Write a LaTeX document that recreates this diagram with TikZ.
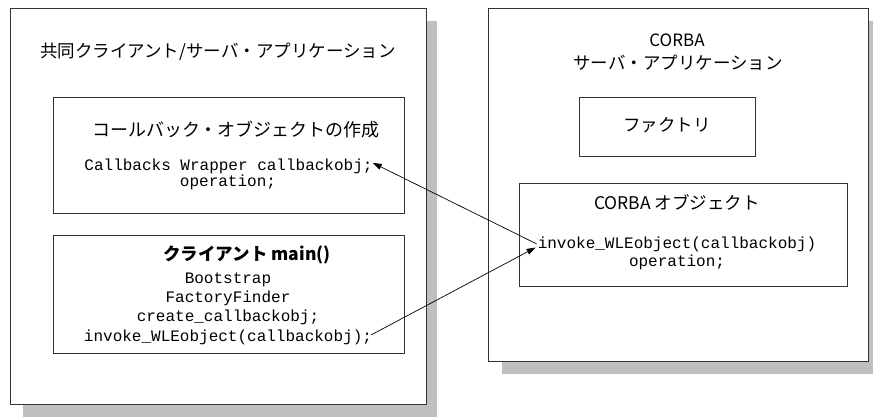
\documentclass[tikz,border=0pt]{standalone}
\usepackage{fontspec}
\newfontfamily\jp{Noto Sans CJK JP}
\newfontfamily\code{Liberation Mono}
\usetikzlibrary{arrows.meta,calc}
\tikzset{
  outer/.style={draw=black!80, line width=0.9pt, fill=white, anchor=north west, inner sep=0pt},
  inner/.style={draw=black!80, line width=0.9pt, fill=white, anchor=north west, inner sep=0pt},
  shadowbox/.style={fill=black!25, draw=none, anchor=north west, inner sep=0pt},
  ttl/.style={font=\jp\fontsize{17.5}{20}\selectfont, anchor=base, inner sep=1pt},
  codeline/.style={font=\code\fontsize{16}{18}\selectfont, anchor=base, inner sep=1pt},
  conn/.style={line width=0.7pt, -{Triangle[length=9pt,width=6pt]}}
}
\begin{document}
\begin{tikzpicture}[x=1pt,y=-1pt]
\useasboundingbox (0,0) rectangle (874,417);
% shadows
\node[shadowbox, minimum width=414pt, minimum height=396pt] (lsh) at (23,21) {};
\node[shadowbox, minimum width=371pt, minimum height=353pt] (rsh) at (502,21) {};
% outer boxes
\node[outer, minimum width=416pt, minimum height=396pt] (left) at (10,8) {};
\node[outer, minimum width=380pt, minimum height=353pt] (right) at (488,8) {};
% inner boxes
\node[inner, minimum width=351pt, minimum height=116pt] (cb) at (53,97) {};
\node[inner, minimum width=351pt, minimum height=118pt] (cl) at (53,235) {};
\node[inner, minimum width=176pt, minimum height=59pt] (fac) at (579,97) {};
\node[inner, minimum width=328pt, minimum height=103pt] (obj) at (519,183) {};
% texts left
\node[ttl] (ltitle) at (218,58) {共同クライアント/サーバ・アプリケーション};
\node[ttl, font=\jp\fontsize{18}{20}\selectfont] (cbtitle) at (236,136) {コールバック・オブジェクトの作成};
\node[codeline] (cb1) at (228.5,170) {Callbacks Wrapper callbackobj;};
\node[codeline] (cb2) at (228,186) {operation;};
\node[ttl, font=\jp\bfseries\fontsize{17.5}{20}\selectfont] (cltitle) at (247,260) {クライアント main()};
\node[codeline] (cl1) at (228,283) {Bootstrap};
\node[codeline] (cl2) at (228,302) {FactoryFinder};
\node[codeline] (cl3) at (228,321) {create\_callbackobj;};
\node[codeline] (cl4) at (228,341) {invoke\_WLEobject(callbackobj);};
% texts right
\node[ttl, font=\jp\fontsize{17}{20}\selectfont] (rt1) at (677,47) {CORBA};
\node[ttl] (rt2) at (678,70) {サーバ・アプリケーション};
\node[ttl] (factxt) at (667,131) {ファクトリ};
\node[ttl] (objtitle) at (677,209) {CORBA オブジェクト};
\node[codeline] (ro1) at (677,248) {invoke\_WLEobject(callbackobj)};
\node[codeline] (ro2) at (677,266) {operation;};
% connectors
\draw[conn] (ro1.west) -- ($(cb1.east)+(-1,-3)$);
\draw[conn] ($(cl4.east)+(-2,-2)$) -- ($(ro1.south west)+(-1,-5)$);
\end{tikzpicture}
\end{document}
